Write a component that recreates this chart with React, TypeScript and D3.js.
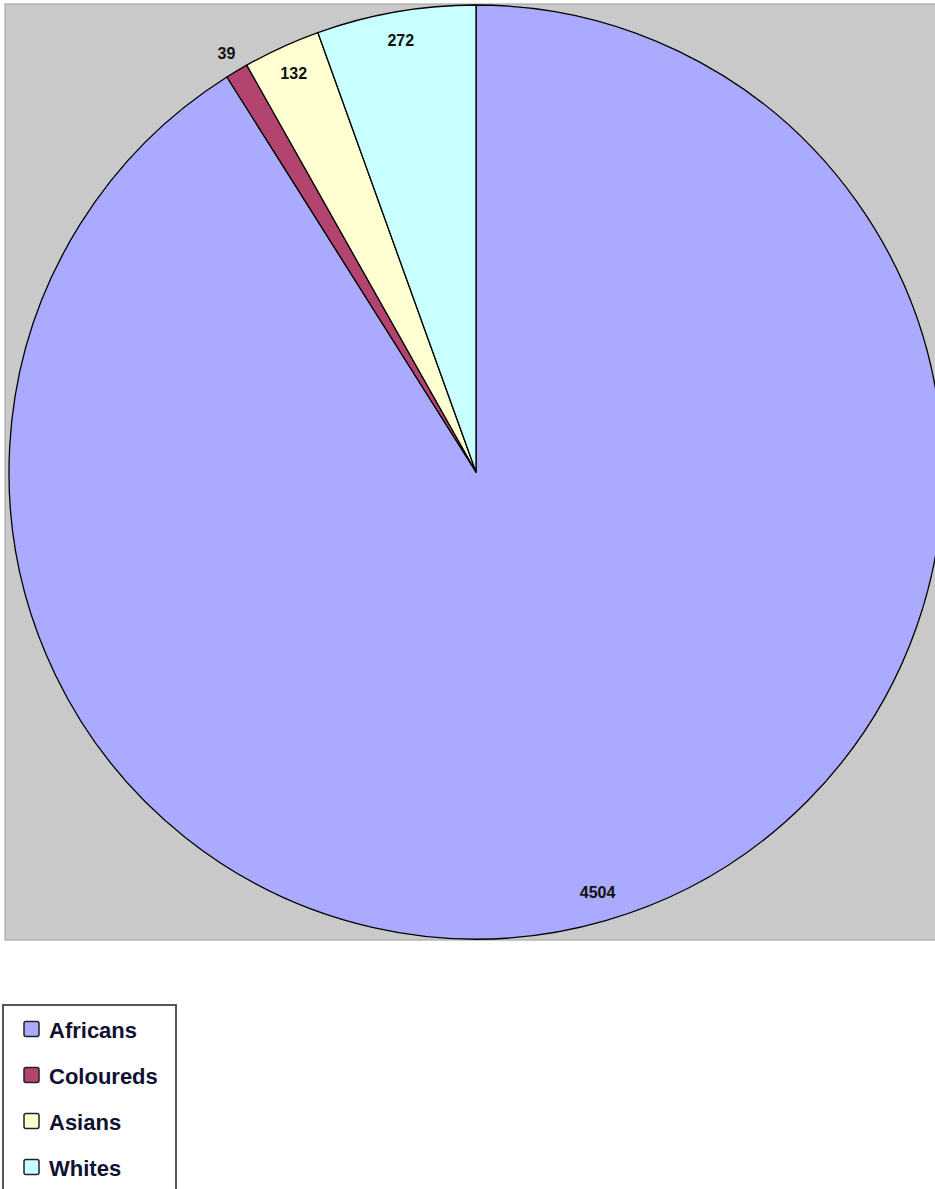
import React from "react";
import * as d3 from "d3";

const categories = ["Africans", "Coloureds", "Asians", "Whites"];
const values = [4504, 39, 132, 272];
const colors = ["#aaaaff", "#b3446f", "#ffffd2", "#c8ffff"];

const W = 935;
const H = 1189;
const cx = 476;
const cy = 472;
const R = 467;

export default function App() {
  const data = categories.map((c, i) => ({ name: c, value: values[i], color: colors[i] }));
  const total = d3.sum(values);
  const pie = d3
    .pie<any>()
    .sort(null)
    .value((d: any) => d.value)
    .startAngle(0)
    .endAngle(2 * Math.PI);
  const arcs = pie(data);
  const arc = d3.arc<any>().innerRadius(0).outerRadius(R);
  const inLabel = d3.arc<any>().innerRadius(438).outerRadius(438);
  const outLabel = d3.arc<any>().innerRadius(487).outerRadius(487);

  const legendX = 3;
  const legendY = 1005;
  const rowY = d3.scalePoint<string>().domain(categories).range([1029, 1167]);

  return (
    <svg
      width={W}
      height={H}
      style={{ position: "absolute", left: 0, top: 0, background: "#ffffff" }}
    >
      <rect x={5} y={4} width={960} height={936} fill="#c9c9c9" stroke="#a8a8a8" strokeWidth={1.2} />
      <g transform={`translate(${cx},${cy})`}>
        {arcs.map((a, i) => (
          <path key={i} d={arc(a) as string} fill={a.data.color} stroke="#000" strokeWidth={1.3} strokeLinejoin="round" />
        ))}
        {arcs.map((a, i) => {
          const small = a.data.value / total < 0.01;
          const [x, y] = (small ? outLabel : inLabel).centroid(a);
          return (
            <text
              key={"l" + i}
              x={x}
              y={y}
              textAnchor="middle"
              dominantBaseline="central"
              fontFamily="Liberation Sans, Arial, sans-serif"
              fontWeight="bold"
              fontSize={16}
              fill="#111"
            >
              {a.data.value}
            </text>
          );
        })}
      </g>
      <rect x={legendX} y={legendY} width={173} height={200} fill="#ffffff" stroke="#444" strokeWidth={1.8} />
      {data.map((d, i) => {
        const y = rowY(d.name) as number;
        return (
          <g key={"lg" + i}>
            <rect x={24} y={y - 7.5} width={15} height={15} rx={2} fill={d.color} stroke="#222" strokeWidth={1.5} />
            <text
              x={49}
              y={y + 1}
              dominantBaseline="central"
              fontFamily="Liberation Sans, Arial, sans-serif"
              fontWeight="bold"
              fontSize={22}
              fill="#111133"
            >
              {d.name}
            </text>
          </g>
        );
      })}
    </svg>
  );
}
